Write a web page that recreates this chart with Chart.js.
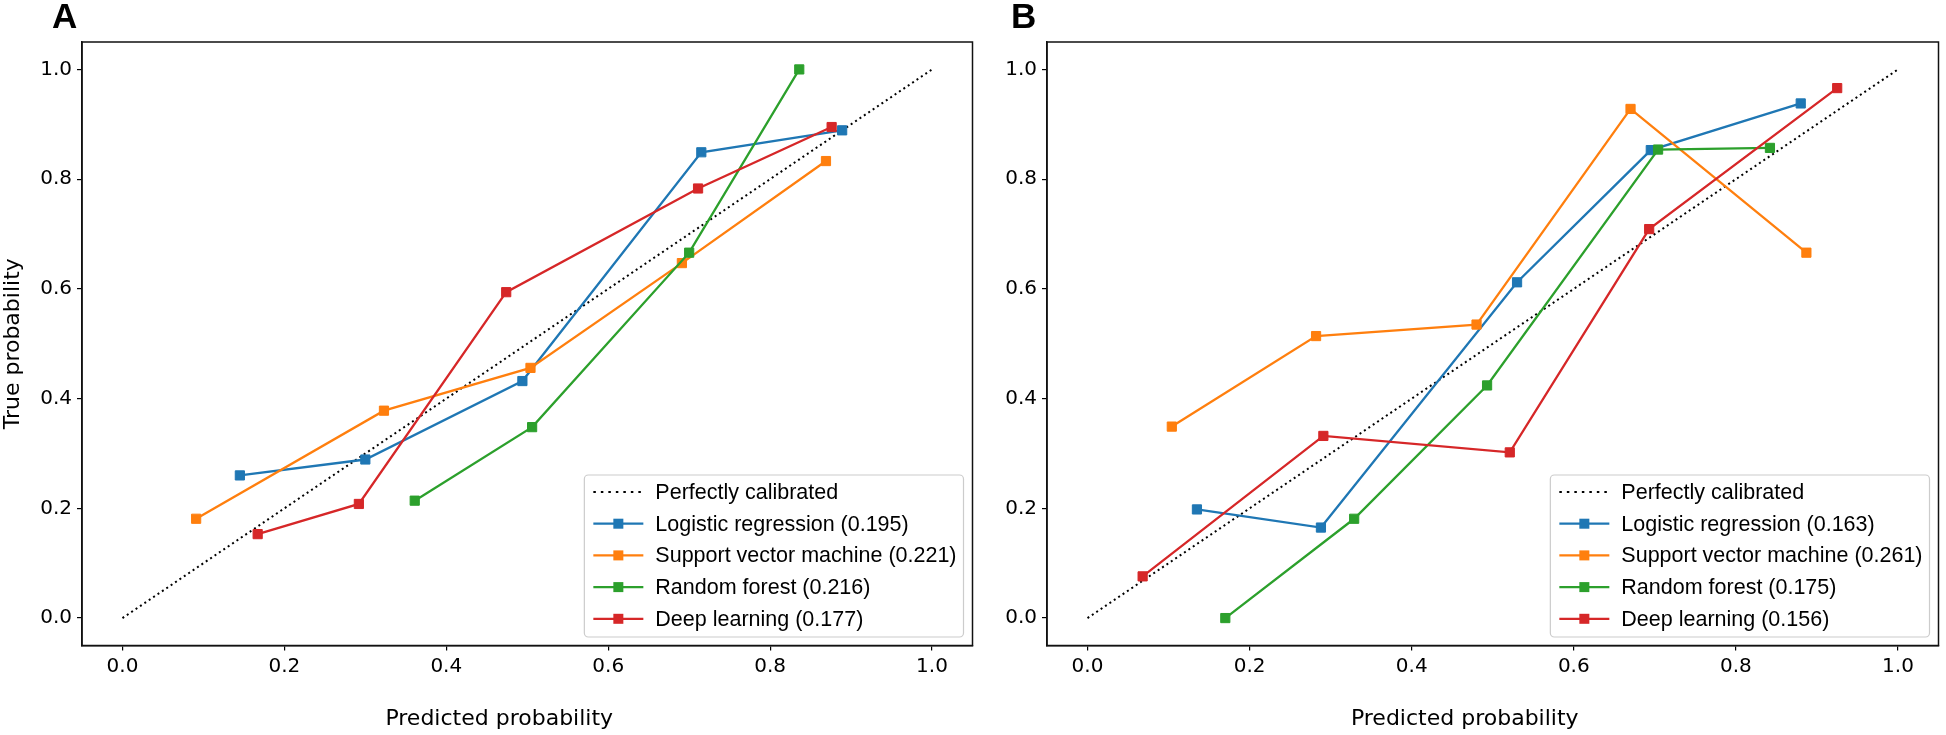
<!DOCTYPE html>
<html>
<head>
<meta charset="utf-8">
<script src="https://cdn.jsdelivr.net/npm/chart.js@4.4.1/dist/chart.umd.min.js"></script>
<style>
  html, body { margin: 0; padding: 0; background: #fff; }
  #wrap { position: relative; width: 1946px; height: 735px; }
  canvas { position: absolute; top: 0; }
</style>
</head>
<body>
<div id="wrap">
  <canvas id="panelA" width="980" height="735" style="left:0"></canvas>
  <canvas id="panelB" width="966" height="735" style="left:980px"></canvas>
</div>
<script>
const tickValues = [0, 0.2, 0.4, 0.6, 0.8, 1.0]
const modelNames = ['Logistic regression', 'Support vector machine', 'Random forest', 'Deep learning']
const modelColors = ['#1f77b4', '#ff7f0e', '#2ca02c', '#d62728']
const diagX = [0, 1]
const diagY = [0, 1]

// panel A
const brierA = ['0.195', '0.221', '0.216', '0.177']
const lrPredA = [0.145, 0.300, 0.494, 0.715, 0.889]
const lrTrueA = [0.260, 0.289, 0.432, 0.849, 0.889]
const svmPredA = [0.091, 0.323, 0.504, 0.691, 0.869]
const svmTrueA = [0.181, 0.378, 0.456, 0.647, 0.833]
const rfPredA = [0.361, 0.506, 0.700, 0.836]
const rfTrueA = [0.214, 0.348, 0.666, 1.000]
const dlPredA = [0.167, 0.292, 0.474, 0.711, 0.876]
const dlTrueA = [0.153, 0.208, 0.594, 0.783, 0.895]

// panel B
const brierB = ['0.163', '0.261', '0.175', '0.156']
const lrPredB = [0.135, 0.288, 0.530, 0.695, 0.880]
const lrTrueB = [0.198, 0.165, 0.612, 0.853, 0.938]
const svmPredB = [0.104, 0.282, 0.480, 0.670, 0.887]
const svmTrueB = [0.349, 0.514, 0.535, 0.928, 0.666]
const rfPredB = [0.170, 0.329, 0.493, 0.704, 0.842]
const rfTrueB = [0.000, 0.181, 0.424, 0.854, 0.857]
const dlPredB = [0.068, 0.291, 0.521, 0.693, 0.925]
const dlTrueB = [0.076, 0.332, 0.302, 0.709, 0.966]

Chart.defaults.font.family = '"DejaVu Sans", sans-serif'
Chart.defaults.color = '#000'

const pts = (xs, ys) => xs.map((x, i) => ({ x, y: ys[i] }))

// frame, legend box, panel letter and x title
const decor = {
  id: 'decor',
  afterDraw(chart, args, opts) {
    const { ctx, chartArea: a } = chart
    ctx.save()

    // legend, bottom right inside the axes
    ctx.font = '21.5px "Liberation Sans", Arial, sans-serif'
    const items = chart.data.datasets.map(d => ({ label: d.label, color: d.borderColor, dotted: !!d.borderDash }))
    const textW = Math.max(...items.map(it => ctx.measureText(it.label).width))
    const rowH = 31.7
    const boxW = 9 + 50 + 12 + textW + 7
    const boxH = 162
    const bx = a.right - 9 - boxW
    const by = a.bottom - 8.5 - boxH
    ctx.beginPath()
    ctx.roundRect(bx, by, boxW, boxH, 4)
    ctx.fillStyle = 'rgba(255,255,255,0.85)'
    ctx.fill()
    ctx.strokeStyle = '#cccccc'
    ctx.lineWidth = 1.2
    ctx.stroke()
    items.forEach((it, i) => {
      const cy = by + 17 + i * rowH
      const x0 = bx + 9
      ctx.beginPath()
      ctx.strokeStyle = it.color
      ctx.lineWidth = 2.2
      ctx.setLineDash(it.dotted ? [2.5, 5] : [])
      ctx.moveTo(x0, cy)
      ctx.lineTo(x0 + 50, cy)
      ctx.stroke()
      ctx.setLineDash([])
      if (!it.dotted) {
        ctx.fillStyle = it.color
        ctx.fillRect(x0 + 25 - 5, cy - 5, 10, 10)
      }
      ctx.fillStyle = '#000'
      ctx.textAlign = 'left'
      ctx.textBaseline = 'middle'
      ctx.fillText(it.label, x0 + 62, cy + 1)
    })

    // box around the axes
    ctx.strokeStyle = '#111'
    ctx.lineWidth = 1.5
    ctx.strokeRect(a.left, a.top, a.right - a.left, a.bottom - a.top)

    // x title
    ctx.fillStyle = '#000'
    ctx.font = '22px "DejaVu Sans", sans-serif'
    ctx.textAlign = 'center'
    ctx.textBaseline = 'alphabetic'
    ctx.fillText('Predicted probability', (a.left + a.right) / 2 - 28, 725)

    // panel letter
    ctx.font = 'bold 35px "Liberation Sans", Arial, sans-serif'
    ctx.textAlign = 'left'
    ctx.fillText(opts.letter, opts.letterX, 28)
    ctx.restore()
  }
}

function makePanel(id, letter, letterX, brier, groups, yWidth, showYTitle) {
  const datasets = [{
    label: 'Perfectly calibrated',
    data: pts(diagX, diagY),
    borderColor: '#000',
    borderWidth: 2,
    borderDash: [2, 3.3],
    pointRadius: 0,
    order: 10
  }]
  groups.forEach((g, i) => {
    datasets.push({
      label: modelNames[i] + ' (' + brier[i] + ')',
      data: pts(g[0], g[1]),
      borderColor: modelColors[i],
      backgroundColor: modelColors[i],
      borderWidth: 2.3,
      pointStyle: 'rect',
      pointRadius: 6.5,
      pointBorderWidth: 1,
      pointBackgroundColor: modelColors[i],
      pointBorderColor: modelColors[i],
      order: 5 - i
    })
  })

  const axisCommon = {
    type: 'linear',
    min: -0.05,
    max: 1.05,
    afterBuildTicks: s => { s.ticks = tickValues.map(v => ({ value: v })) },
    grid: { drawOnChartArea: false, drawTicks: true, tickLength: 5, color: '#000', lineWidth: 1.2 },
    border: { display: true, color: '#111', width: 1.5 }
  }

  return new Chart(document.getElementById(id), {
    type: 'line',
    data: { datasets },
    options: {
      responsive: false,
      animation: false,
      layout: { padding: { top: 42, right: 3, left: 0, bottom: 0 } },
      plugins: {
        legend: { display: false },
        tooltip: { enabled: false },
        decor: { letter, letterX }
      },
      scales: {
        x: {
          ...axisCommon,
          position: 'bottom',
          afterFit: s => { s.height = 89.5 },
          ticks: { font: { size: 20 }, padding: 4, maxRotation: 0, callback: v => v.toFixed(1) }
        },
        y: {
          ...axisCommon,
          position: 'left',
          afterFit: s => { s.width = yWidth },
          ticks: { font: { size: 20 }, padding: 5, callback: v => v.toFixed(1) },
          title: { display: showYTitle, text: 'True probability', font: { size: 22 }, padding: { top: 0, bottom: 0 } }
        }
      }
    },
    plugins: [decor]
  })
}

makePanel('panelA', 'A', 52, brierA,
  [[lrPredA, lrTrueA], [svmPredA, svmTrueA], [rfPredA, rfTrueA], [dlPredA, dlTrueA]], 82, true)
makePanel('panelB', 'B', 31, brierB,
  [[lrPredB, lrTrueB], [svmPredB, svmTrueB], [rfPredB, rfTrueB], [dlPredB, dlTrueB]], 67, false)
</script>
</body>
</html>
